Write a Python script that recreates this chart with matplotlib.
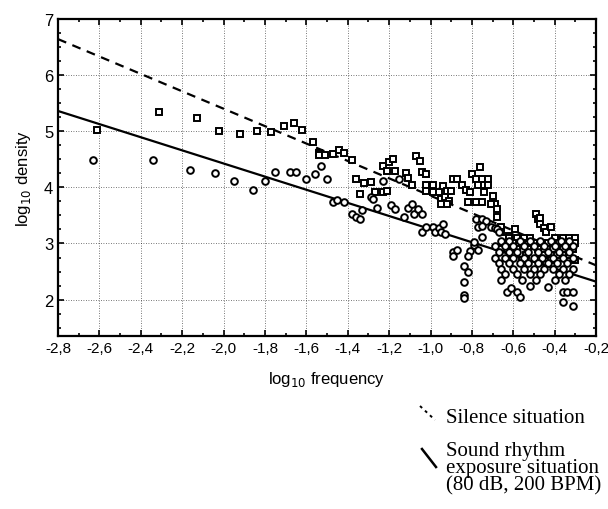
import matplotlib
matplotlib.use("Agg")
import matplotlib.pyplot as plt
from matplotlib.lines import Line2D
from matplotlib.ticker import MultipleLocator, FuncFormatter

plt.rcParams['font.family'] = ['Liberation Sans', 'DejaVu Sans']

# silence situation (squares)
sil_x = [-2.61, -2.31, -2.13, -2.02, -1.92, -1.84, -1.77, -1.71, -1.66, -1.62,
         -1.57, -1.54, -1.54, -1.51, -1.47, -1.44, -1.42, -1.38, -1.36, -1.34,
         -1.32, -1.29, -1.27, -1.23, -1.21, -1.23, -1.21, -1.20, -1.18, -1.17,
         -1.12, -1.11, -1.09, -1.07, -1.05, -1.04, -1.02, -1.02, -0.99, -1.02,
         -0.99, -0.96, -0.94, -0.92, -0.90, -0.95, -0.93, -0.91, -0.95, -0.92,
         -0.89, -0.87, -0.85, -0.83, -0.81, -0.80, -0.78, -0.75, -0.72, -0.77,
         -0.74, -0.72, -0.74, -0.70, -0.69, -0.82, -0.78, -0.75, -0.71, -0.68,
         -0.68, -0.76, -0.66, -0.66, -0.62, -0.59,
         -0.49, -0.48, -0.47, -0.45, -0.44, -0.42, -0.47,
         -0.62, -0.58, -0.55, -0.52, -0.40, -0.36, -0.33, -0.30,
         -0.65, -0.60, -0.56, -0.50, -0.46, -0.43, -0.38, -0.34, -0.30,
         -0.63, -0.58, -0.53, -0.48, -0.41, -0.36, -0.31,
         -0.60, -0.54, -0.45, -0.39, -0.33,
         -0.56, -0.47, -0.42, -0.30]
sil_y = [5.02, 5.34, 5.23, 5.00, 4.95, 5.00, 4.98, 5.09, 5.14, 5.02,
         4.80, 4.62, 4.57, 4.57, 4.59, 4.66, 4.62, 4.48, 4.14, 3.88,
         4.07, 4.09, 3.91, 3.91, 3.93, 4.38, 4.29, 4.45, 4.50, 4.29,
         4.25, 4.16, 4.05, 4.55, 4.46, 4.27, 4.23, 4.05, 4.05, 3.93,
         3.91, 3.91, 4.02, 3.93, 3.93, 3.79, 3.82, 3.75, 3.70, 3.70,
         4.14, 4.14, 4.05, 3.96, 3.91, 4.23, 4.14, 4.14, 4.14, 4.05,
         4.05, 4.05, 3.91, 3.84, 3.70, 3.73, 3.73, 3.73, 3.70, 3.61,
         3.48, 4.36, 3.30, 3.21, 3.13, 3.25,
         3.52, 3.43, 3.35, 3.28, 3.20, 3.30, 3.45,
         3.10, 3.10, 3.10, 3.10, 3.10, 3.10, 3.10, 3.10,
         3.00, 3.00, 3.00, 3.00, 3.00, 3.00, 3.00, 3.00, 3.00,
         2.90, 2.90, 2.90, 2.90, 2.90, 2.90, 2.90,
         2.80, 2.80, 2.80, 2.80, 2.80,
         2.70, 2.70, 2.70, 2.70]

# sound rhythm exposure situation (circles)
snd_x = [-2.63, -2.34, -2.16, -2.04, -1.95, -1.86, -1.80, -1.75, -1.68, -1.65,
         -1.60, -1.56, -1.53, -1.50, -1.47, -1.45, -1.42, -1.38, -1.36, -1.34,
         -1.33, -1.29, -1.28, -1.26, -1.23, -1.19, -1.17, -1.15, -1.13, -1.11,
         -1.09, -1.08, -1.06, -1.04, -1.04, -1.02, -0.99, -0.98, -0.96, -0.94,
         -0.95, -0.93, -0.89, -0.89, -0.87, -0.81, -0.82, -0.84, -0.82, -0.84,
         -0.84, -0.84, -0.79, -0.75, -0.77, -0.78, -0.75, -0.73, -0.77, -0.75,
         -0.79, -0.71, -0.69, -0.68, -0.67,
         -0.66, -0.62, -0.57, -0.52, -0.47, -0.42, -0.37, -0.33,
         -0.69, -0.64, -0.60, -0.55, -0.50, -0.45, -0.40, -0.35, -0.31,
         -0.67, -0.62, -0.58, -0.53, -0.48, -0.43, -0.38, -0.33,
         -0.69, -0.64, -0.60, -0.55, -0.50, -0.46, -0.41, -0.36, -0.31,
         -0.67, -0.62, -0.57, -0.53, -0.48, -0.43, -0.39, -0.34,
         -0.66, -0.60, -0.55, -0.50, -0.45, -0.41, -0.36, -0.31,
         -0.64, -0.58, -0.52, -0.47, -0.38, -0.33,
         -0.66, -0.56, -0.49, -0.40, -0.35,
         -0.63, -0.58, -0.57, -0.36, -0.34, -0.31, -0.36, -0.31, -0.52, -0.43, -0.61]
snd_y = [4.48, 4.48, 4.30, 4.26, 4.12, 3.95, 4.12, 4.28, 4.27, 4.27,
         4.14, 4.24, 4.38, 4.14, 3.73, 3.77, 3.73, 3.52, 3.48, 3.43,
         3.59, 3.82, 3.79, 3.64, 4.11, 3.68, 3.61, 4.14, 3.48, 3.64,
         3.70, 3.52, 3.61, 3.52, 3.20, 3.29, 3.30, 3.21, 3.28, 3.34,
         3.20, 3.16, 2.84, 2.77, 2.89, 2.86, 2.77, 2.59, 2.50, 2.32,
         2.09, 2.02, 2.98, 3.12, 2.88, 3.43, 3.43, 3.40, 3.30, 3.32,
         3.03, 3.30, 3.28, 3.25, 3.20,
         3.05, 3.05, 3.05, 3.05, 3.05, 3.05, 3.05, 3.05,
         2.95, 2.95, 2.95, 2.95, 2.95, 2.95, 2.95, 2.95, 2.95,
         2.85, 2.85, 2.85, 2.85, 2.85, 2.85, 2.85, 2.85,
         2.75, 2.75, 2.75, 2.75, 2.75, 2.75, 2.75, 2.75, 2.75,
         2.65, 2.65, 2.65, 2.65, 2.65, 2.65, 2.65, 2.65,
         2.55, 2.55, 2.55, 2.55, 2.55, 2.55, 2.55, 2.55,
         2.45, 2.45, 2.45, 2.45, 2.45, 2.45,
         2.35, 2.35, 2.35, 2.35, 2.35,
         2.13, 2.13, 2.05, 2.13, 2.13, 2.14, 1.95, 1.88, 2.25, 2.22, 2.20]

# regression lines (end points at x = -2.8 and -0.2)
line_x = [-2.8, -0.2]
sil_line = [6.64, 2.61]
snd_line = [5.36, 2.32]

xticks = [-2.8, -2.6, -2.4, -2.2, -2.0, -1.8, -1.6, -1.4, -1.2, -1.0, -0.8, -0.6, -0.4, -0.2]
yticks = [2, 3, 4, 5, 6, 7]

fig = plt.figure(figsize=(6.08, 5.10), dpi=100)
ax = fig.add_axes([0.0954, 0.339, 0.885, 0.622])

ax.plot(line_x, sil_line, color='black', lw=1.6, ls=(0, (4, 3)), zorder=2)
ax.plot(line_x, snd_line, color='black', lw=1.6, zorder=2)
ax.plot(sil_x, sil_y, ls='none', marker='s', ms=4.5, mfc='white', mec='black', mew=1.4, zorder=3)
ax.plot(snd_x, snd_y, ls='none', marker='o', ms=4.8, mfc='white', mec='black', mew=1.4, zorder=3)

ax.set_xlim(-2.8, -0.2)
ax.set_ylim(1.35, 7)
ax.set_xticks(xticks)
ax.set_yticks(yticks)
ax.xaxis.set_minor_locator(MultipleLocator(0.1))
ax.yaxis.set_minor_locator(MultipleLocator(0.25))
ax.xaxis.set_major_formatter(FuncFormatter(lambda v, p: f'{v:.1f}'.replace('.', ',')))
ax.tick_params(which='both', direction='in', top=True, right=True, width=1.2)
ax.tick_params(which='major', length=4, labelsize=11)
ax.tick_params(axis='y', which='major', labelsize=12)
ax.tick_params(which='minor', length=2.5)
ax.grid(True, which='major', color='black', ls=(0, (1, 2)), lw=0.6, alpha=0.7)
for s in ax.spines.values():
    s.set_linewidth(1.6)

ax.set_xlabel('log$_{10}$ frequency', fontsize=12, labelpad=10)
ax.set_ylabel('log$_{10}$ density', fontsize=12, labelpad=8)

# legend drawn under the chart
serif = ['Liberation Serif', 'DejaVu Serif']
fig.add_artist(Line2D([420 / 608, 435 / 608], [1 - 407 / 510, 1 - 421 / 510],
                      color='black', lw=1.4, ls=(0, (1.5, 2)), transform=fig.transFigure))
fig.add_artist(Line2D([422 / 608, 436 / 608], [1 - 450 / 510, 1 - 468 / 510],
                      color='black', lw=1.8, transform=fig.transFigure))
fig.text(446 / 608, 1 - 419 / 510, 'Silence situation', family=serif, fontsize=15, va='center')
fig.text(446 / 608, 1 - 469 / 510, 'Sound rhythm\nexposure situation\n(80 dB, 200 BPM)',
         family=serif, fontsize=15, va='center', ha='left', linespacing=0.87)

fig.savefig('out.png', dpi=100)
